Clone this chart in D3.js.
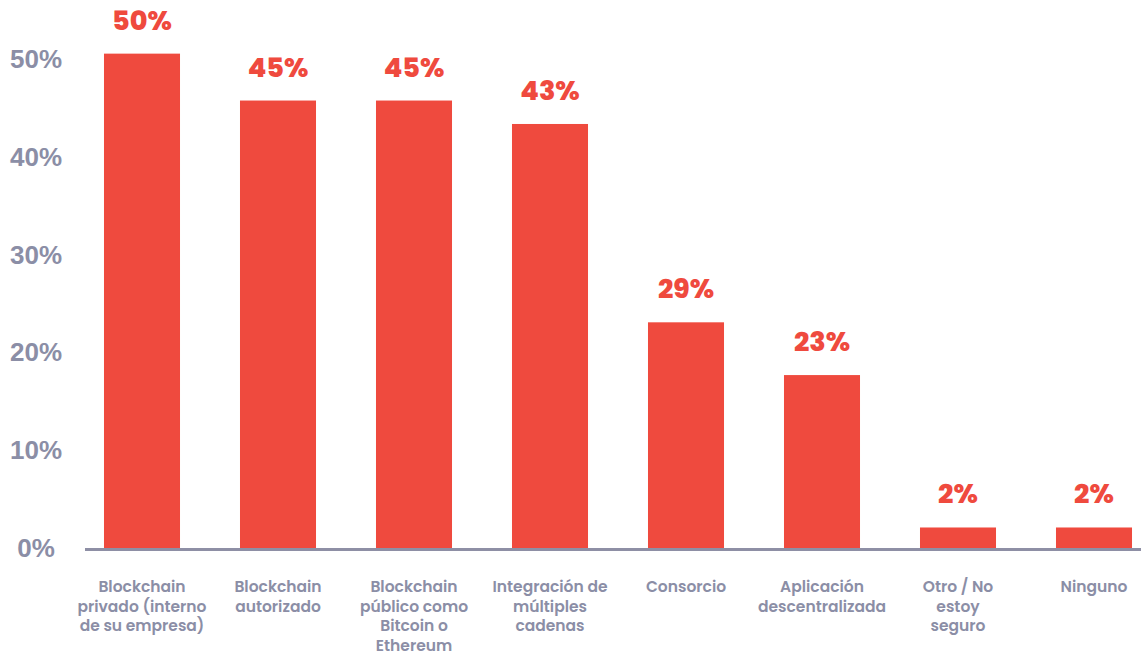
<!DOCTYPE html>
<html>
<head>
<meta charset="utf-8">
<script src="https://cdn.jsdelivr.net/npm/d3@7"></script>
<style>
  body { margin: 0; background: #fff; }
  svg { display: block; font-family: Poppins, Inter, "Open Sans", sans-serif; }
</style>
</head>
<body>
<div id="chart"></div>
<script>
/* chart values */
const categories = [
  'Blockchain privado (interno de su empresa)',
  'Blockchain autorizado',
  'Blockchain público como Bitcoin o Ethereum',
  'Integración de múltiples cadenas',
  'Consorcio',
  'Aplicación descentralizada',
  'Otro / No estoy seguro',
  'Ninguno'
];
// bar heights as drawn (percent)
const barValues = [50.6, 45.8, 45.8, 43.4, 23.1, 17.7, 2.1, 2.1];
// labels printed above the bars
const valueLabels = ['50%', '45%', '45%', '43%', '29%', '23%', '2%', '2%'];
// wrapped category labels
const categoryLines = [
  ['Blockchain', 'privado (interno', 'de su empresa)'],
  ['Blockchain', 'autorizado'],
  ['Blockchain', 'público como', 'Bitcoin o', 'Ethereum'],
  ['Integración de', 'múltiples', 'cadenas'],
  ['Consorcio'],
  ['Aplicación', 'descentralizada'],
  ['Otro / No', 'estoy', 'seguro'],
  ['Ninguno']
];
const yTicks = [0, 10, 20, 30, 40, 50];

const width = 1141;
const height = 654;
const red = '#ef4a3e';
const grey = '#8b8ea6';

const svg = d3.select('#chart')
  .append('svg')
  .attr('width', width)
  .attr('height', height);

const x = d3.scaleBand()
  .domain(categories)
  .range([74, 1162])
  .paddingInner(0.441)
  .paddingOuter(0.2205);

const y = d3.scaleLinear()
  .domain([0, 50])
  .range([548, 59.5]);

/* y axis labels, no lines */
const yAxis = d3.axisLeft(y)
  .tickValues(yTicks)
  .tickFormat(d => d + '%')
  .tickSize(0);

svg.append('g')
  .attr('class', 'y-axis')
  .attr('transform', 'translate(36, 0)')
  .call(yAxis)
  .call(g => g.select('.domain').remove())
  .selectAll('text')
  .attr('x', 0)
  .attr('text-anchor', 'middle')
  .attr('fill', grey)
  .style('font-size', '26px')
  .style('font-weight', 700);

/* bars */
svg.selectAll('.bar')
  .data(barValues)
  .enter()
  .append('rect')
  .attr('class', 'bar')
  .attr('x', (d, i) => x(categories[i]))
  .attr('width', x.bandwidth())
  .attr('y', d => y(d))
  .attr('height', d => y(0) - y(d) + 1)
  .attr('fill', red);

/* baseline */
svg.append('line')
  .attr('x1', 85)
  .attr('x2', width)
  .attr('y1', y(0) + 1.5)
  .attr('y2', y(0) + 1.5)
  .attr('stroke', '#8e8fa5')
  .attr('stroke-width', 3);

/* value labels */
svg.selectAll('.value')
  .data(barValues)
  .enter()
  .append('text')
  .attr('class', 'value')
  .attr('x', (d, i) => x(categories[i]) + x.bandwidth() / 2)
  .attr('y', d => y(d) - 24)
  .attr('text-anchor', 'middle')
  .attr('fill', red)
  .style('font-size', '27px')
  .style('font-weight', 800)
  .text((d, i) => valueLabels[i]);

/* category labels */
const cats = svg.selectAll('.cat')
  .data(categories)
  .enter()
  .append('text')
  .attr('class', 'cat')
  .attr('text-anchor', 'middle')
  .attr('fill', grey)
  .style('font-size', '15.5px')
  .style('font-weight', 600)
  .attr('transform', d => `translate(${x(d) + x.bandwidth() / 2}, 592)`);

cats.selectAll('tspan')
  .data((d, i) => categoryLines[i])
  .enter()
  .append('tspan')
  .attr('x', 0)
  .attr('y', (d, j) => j * 19.5)
  .text(d => d);
</script>
</body>
</html>
